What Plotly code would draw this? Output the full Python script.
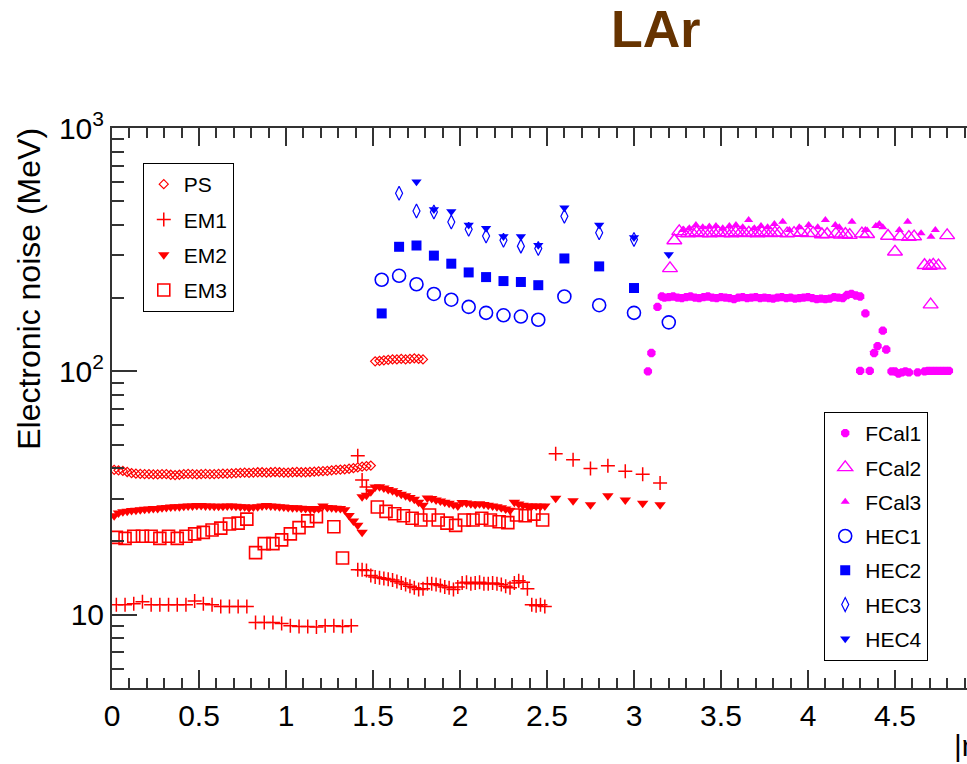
import plotly.graph_objects as go

# ---------------- data (|eta|, noise in MeV) ----------------
PS_x = [0.0125, 0.0375, 0.0625, 0.0875, 0.1125, 0.1375, 0.1625, 0.1875, 0.2125, 0.2375,
        0.2625, 0.2875, 0.3125, 0.3375, 0.3625, 0.3875, 0.4125, 0.4375, 0.4625, 0.4875,
        0.5125, 0.5375, 0.5625, 0.5875, 0.6125, 0.6375, 0.6625, 0.6875, 0.7125, 0.7375,
        0.7625, 0.7875, 0.8125, 0.8375, 0.8625, 0.8875, 0.9125, 0.9375, 0.9625, 0.9875,
        1.0125, 1.0375, 1.0625, 1.0875, 1.1125, 1.1375, 1.1625, 1.1875, 1.2125, 1.2375,
        1.2625, 1.2875, 1.3125, 1.3375, 1.3625, 1.3875, 1.4125, 1.4375, 1.4625, 1.4875,
        1.5125, 1.5375, 1.5625, 1.5875, 1.6125, 1.6375, 1.6625, 1.6875, 1.7125, 1.7375,
        1.7625, 1.7875]
PS_y = [39.4, 39.2, 39.0, 38.6, 38.2, 38.0, 37.9, 37.8, 37.8, 37.7,
        37.7, 37.8, 37.8, 37.6, 37.5, 37.6, 37.8, 37.9, 37.8, 37.7,
        37.8, 37.9, 37.8, 37.8, 37.9, 38.0, 38.0, 38.1, 38.2, 38.3,
        38.4, 38.3, 38.4, 38.5, 38.5, 38.4, 38.5, 38.6, 38.5, 38.4,
        38.4, 38.5, 38.6, 38.5, 38.5, 38.6, 38.7, 38.8, 38.9, 39.0,
        39.2, 39.4, 39.5, 39.6, 39.8, 40.0, 40.3, 40.6, 40.8, 41.0,
        110.0, 110.5, 111.0, 111.5, 112.0, 112.0, 112.5, 112.0, 112.5, 113.0,
        112.5, 112.0]

EM1_x = [0.025, 0.075, 0.125, 0.175, 0.225, 0.275, 0.325, 0.375, 0.425, 0.475,
         0.525, 0.575, 0.625, 0.675, 0.725, 0.775,
         0.825, 0.875, 0.925, 0.975, 1.025, 1.075, 1.125, 1.175, 1.225, 1.275, 1.325, 1.375,
         1.4125, 1.4375, 1.4625, 1.4125, 1.4375, 1.4625,
         1.4875, 1.5125, 1.5375, 1.5625, 1.5875, 1.6125, 1.6375, 1.6625, 1.6875, 1.7125,
         1.7375, 1.7625, 1.7875, 1.8125, 1.8375, 1.8625, 1.8875, 1.9125, 1.9375, 1.9625,
         1.9875, 2.0125, 2.0375, 2.0625, 2.0875, 2.1125, 2.1375, 2.1625, 2.1875, 2.2125,
         2.2375, 2.2625, 2.2875, 2.3125, 2.3375, 2.3625, 2.3875, 2.4125, 2.4375, 2.4625,
         2.4875,
         2.55, 2.65, 2.75, 2.85, 2.95, 3.05, 3.15]
EM1_y = [11.0, 11.0, 11.1, 11.3, 11.0, 11.0, 11.0, 11.0, 11.0, 11.4,
         11.1, 11.0, 10.8, 10.8, 10.8, 10.8,
         9.3, 9.3, 9.3, 9.2, 9.0, 8.95, 8.95, 8.9, 9.0, 9.0, 8.95, 9.0,
         45.0, 35.8, 33.5, 15.3, 15.3, 15.2,
         14.5, 14.3, 14.2, 14.1, 14.0, 13.9, 13.7, 13.5, 13.3, 13.1,
         12.9, 12.7, 12.8, 13.4, 13.4, 13.3, 13.2, 13.0, 12.9, 12.7,
         13.0, 13.5, 13.6, 13.4, 13.5, 13.6, 13.4, 13.4, 13.5, 13.4,
         13.3, 13.1, 12.9, 13.5, 13.8, 13.6, 12.8, 11.0, 10.9, 11.0,
         10.8,
         45.9, 43.3, 39.9, 40.9, 38.9, 37.8, 34.8]

EM2_x = [0.0125, 0.0375, 0.0625, 0.0875, 0.1125, 0.1375, 0.1625, 0.1875, 0.2125, 0.2375,
         0.2625, 0.2875, 0.3125, 0.3375, 0.3625, 0.3875, 0.4125, 0.4375, 0.4625, 0.4875,
         0.5125, 0.5375, 0.5625, 0.5875, 0.6125, 0.6375, 0.6625, 0.6875, 0.7125, 0.7375,
         0.7625, 0.7875, 0.8125, 0.8375, 0.8625, 0.8875, 0.9125, 0.9375, 0.9625, 0.9875,
         1.0125, 1.0375, 1.0625, 1.0875, 1.1125, 1.1375, 1.1625, 1.1875, 1.2125, 1.2375,
         1.2625, 1.2875, 1.3125, 1.3375, 1.3625, 1.3875, 1.4125, 1.4375,
         1.4375, 1.4625, 1.4875, 1.5125, 1.5375, 1.5625, 1.5875, 1.6125, 1.6375, 1.6625,
         1.6875, 1.7125, 1.7375, 1.7625, 1.7875, 1.8125, 1.8375, 1.8625, 1.8875, 1.9125,
         1.9375, 1.9625, 1.9875, 2.0125, 2.0375, 2.0625, 2.0875, 2.1125, 2.1375, 2.1625,
         2.1875, 2.2125, 2.2375, 2.2625, 2.2875, 2.3125, 2.3375, 2.3625, 2.3875, 2.4125,
         2.4375, 2.4625, 2.4875,
         2.55, 2.65, 2.75, 2.85, 2.95, 3.05, 3.15]
EM2_y = [25.5, 26.2, 26.5, 26.6, 26.8, 26.9, 27.0, 27.1, 27.2, 27.3,
         27.3, 27.5, 27.6, 27.7, 27.8, 27.8, 27.9, 28.0, 28.0, 28.1,
         28.1, 28.0, 28.0, 27.9, 27.9, 27.9, 28.0, 28.0, 27.9, 27.8,
         27.8, 27.5, 27.7, 27.8, 28.0, 28.1, 28.0, 27.9, 27.8, 27.7,
         27.6, 27.5, 27.5, 27.4, 27.3, 27.3, 27.2, 27.3, 28.0, 27.6,
         27.5, 27.4, 27.3, 27.0, 25.6, 24.3, 23.3, 21.8,
         30.5, 31.0, 32.0, 33.5, 33.6, 33.2, 32.7, 32.3, 31.8, 31.3,
         30.8, 30.3, 29.8, 29.0, 28.2, 30.2, 30.0, 29.6, 29.3, 29.0,
         28.7, 28.3, 28.0, 28.9, 28.8, 28.6, 28.4, 28.6, 28.4, 28.2,
         28.0, 27.8, 27.5, 27.2, 26.9, 29.0, 28.5, 28.2, 28.0, 28.0,
         28.0, 27.9, 28.0,
         30.1, 29.4, 28.3, 30.8, 29.6, 28.7, 28.3]

EM3_x = [0.025, 0.075, 0.125, 0.175, 0.225, 0.275, 0.325, 0.375, 0.425, 0.475,
         0.525, 0.575, 0.625, 0.675, 0.725, 0.775,
         0.825, 0.875, 0.925, 0.975, 1.025, 1.075, 1.125, 1.175, 1.275, 1.325,
         1.525, 1.575, 1.625, 1.675, 1.725, 1.775, 1.825, 1.875, 1.925, 1.975,
         2.025, 2.075, 2.125, 2.175, 2.225, 2.275, 2.325, 2.375, 2.425, 2.475]
EM3_y = [20.8, 20.6, 21.0, 21.0, 21.0, 20.6, 21.0, 20.6, 21.0, 21.5,
         21.8, 22.3, 22.7, 23.6, 23.8, 24.7,
         18.0, 19.6, 19.6, 20.3, 21.5, 22.8, 24.3, 25.3, 23.0, 17.1,
         27.7, 26.6, 26.0, 25.5, 24.9, 24.5, 25.7, 24.5, 23.8, 23.3,
         24.5, 24.5, 24.9, 24.5, 24.1, 23.9, 25.7, 25.5, 25.9, 24.5]

FCAL1_x = [3.08, 3.10, 3.135, 3.16,
           3.175, 3.2, 3.225, 3.25, 3.275, 3.3, 3.325, 3.35, 3.375, 3.4,
           3.425, 3.45, 3.475, 3.5, 3.525, 3.55, 3.575, 3.6, 3.625, 3.65,
           3.675, 3.7, 3.725, 3.75, 3.775, 3.8, 3.825, 3.85, 3.875, 3.9,
           3.925, 3.95, 3.975, 4.0, 4.025, 4.05, 4.075, 4.1, 4.125, 4.15,
           4.175, 4.2, 4.225, 4.25, 4.275, 4.30,
           4.30, 4.33, 4.355, 4.38, 4.40, 4.43, 4.45,
           4.48, 4.50, 4.52, 4.54, 4.56, 4.58, 4.63, 4.67, 4.69, 4.71, 4.73, 4.75, 4.77, 4.79, 4.81]
FCAL1_y = [100, 119, 184, 203,
           201, 202, 203, 201, 200, 202, 203, 201, 200, 202,
           203, 201, 200, 202, 201, 200, 198, 201, 202, 200,
           201, 202, 200, 201, 200, 199, 201, 202, 200, 201,
           199, 200, 201, 202, 200, 198, 199, 198, 199, 202,
           201, 200, 206, 208, 205, 203,
           100.5, 173, 100.5, 119, 127, 147, 123,
           100, 100, 98, 99, 100, 99, 99, 100, 100.5, 100.5, 100.5, 100.5, 100.5, 100.5, 100.5]

FCAL2_x = [3.207, 3.232, 3.26,
           3.285, 3.31, 3.335, 3.36, 3.385, 3.41, 3.435, 3.46, 3.485, 3.51,
           3.535, 3.56, 3.585, 3.61, 3.635, 3.66, 3.685, 3.71, 3.735, 3.76,
           3.785, 3.81, 3.835, 3.88, 3.92, 3.96, 4.0, 4.03, 4.08, 4.11,
           4.16, 4.19, 4.215, 4.24, 4.31, 4.34, 4.46,
           4.50, 4.53, 4.58, 4.61, 4.67, 4.70, 4.72, 4.75, 4.705, 4.80]
FCAL2_y = [265, 345, 376,
           370, 368, 370, 372, 369, 370, 368, 370, 372, 369,
           370, 368, 372, 370, 369, 371, 370, 368, 372, 370,
           369, 371, 370, 368, 370, 372, 369, 370, 365, 366,
           368, 364, 366, 363, 368, 366, 360,
           310, 358, 356, 358, 273, 271, 274, 272, 188, 362]

FCAL3_x = [3.280, 3.318, 3.356, 3.395, 3.433, 3.471, 3.510, 3.548, 3.586, 3.625,
           3.659, 3.692, 3.730, 3.768, 3.807, 3.855, 3.893, 3.950, 4.004, 4.056,
           4.100, 4.157, 4.180, 4.253, 4.330, 4.390, 4.410, 4.430, 4.525, 4.573,
           4.650, 4.707, 4.732]
FCAL3_y = [381, 387, 399, 391, 394, 396, 387, 396, 399, 391,
           419, 387, 396, 391, 403, 412, 381, 391, 399, 391,
           419, 399, 391, 412, 381, 396, 403, 391, 381, 412,
           369, 357, 381]

HEC1_x = [1.55, 1.65, 1.75, 1.85, 1.95, 2.05, 2.15, 2.25, 2.35, 2.45, 2.6, 2.8, 3.0, 3.2]
HEC1_y = [238, 247, 228, 208, 197, 184, 174, 170, 168, 163, 203, 187, 174, 159]

HEC2_x = [1.55, 1.65, 1.75, 1.85, 1.95, 2.05, 2.15, 2.25, 2.35, 2.45, 2.6, 2.8, 3.0]
HEC2_y = [173, 325, 329, 299, 277, 255, 244, 235, 233, 226, 291, 270, 220]

HEC3_x = [1.65, 1.75, 1.85, 1.95, 2.05, 2.15, 2.25, 2.35, 2.45, 2.6, 2.8, 3.0]
HEC3_y = [539, 456, 452, 411, 384, 360, 346, 327, 320, 434, 371, 348]

HEC4_x = [1.75, 1.85, 1.95, 2.05, 2.15, 2.25, 2.35, 2.45, 2.6, 2.8, 3.0, 3.2]
HEC4_y = [602, 463, 454, 399, 387, 358, 358, 330, 470, 399, 355, 302]

Y_TICKS = [10, 100, 1000]
Y_TICKTEXT = ["10", "10<sup>2</sup>", "10<sup>3</sup>"]
Y_MINOR = [6, 7, 8, 9, 20, 30, 40, 50, 60, 70, 80, 90, 200, 300, 400, 500, 600, 700, 800, 900]

RED = "#ff0000"
BLUE = "#0000ff"
MAG = "#ff00ff"
FONT = "Liberation Sans, Arial, sans-serif"

fig = go.Figure()

def add(x, y, name, symbol, color, size, legend, lw=0, open_=False):
    marker = dict(symbol=symbol, size=size, color=color)
    if open_:
        marker["line"] = dict(color=color, width=lw)
    fig.add_trace(go.Scatter(x=x, y=y, mode="markers", name=name, marker=marker,
                             legend=legend, legendgroup=name))

add(PS_x, PS_y, "PS", "diamond-open", RED, 7, "legend", 1.2, True)
add(EM1_x, EM1_y, "EM1", "cross-thin", RED, 10, "legend", 1.5, True)
add(EM2_x, EM2_y, "EM2", "triangle-down", RED, 10, "legend")
add(EM3_x, EM3_y, "EM3", "square-open", RED, 12, "legend", 1.6, True)
add(FCAL1_x, FCAL1_y, "FCal1", "octagon", MAG, 9, "legend2")
add(FCAL2_x, FCAL2_y, "FCal2", "triangle-up-open", MAG, 13, "legend2", 1.4, True)
add(FCAL3_x, FCAL3_y, "FCal3", "triangle-up", MAG, 8, "legend2")
add(HEC1_x, HEC1_y, "HEC1", "circle-open", BLUE, 13, "legend2", 1.6, True)
add(HEC2_x, HEC2_y, "HEC2", "square", BLUE, 10, "legend2")
add(HEC3_x, HEC3_y, "HEC3", "diamond-tall-open", BLUE, 10, "legend2", 1.2, True)
add(HEC4_x, HEC4_y, "HEC4", "triangle-down", BLUE, 9, "legend2")

AX = "#333333"
fig.update_layout(
    width=967, height=764,
    margin=dict(l=112, r=0, t=128, b=76),
    paper_bgcolor="white", plot_bgcolor="white",
    font=dict(family=FONT, color="black"),
    showlegend=True,
    legend=dict(x=0.036, y=0.9375, xanchor="left", yanchor="top",
                bgcolor="white", bordercolor="black", borderwidth=1,
                font=dict(family=FONT, size=21, color="black"),
                tracegroupgap=5, itemwidth=30),
    legend2=dict(x=0.833, y=0.493, xanchor="left", yanchor="top",
                 bgcolor="white", bordercolor="black", borderwidth=1,
                 font=dict(family=FONT, size=21, color="black"),
                 tracegroupgap=4, itemwidth=30),
    xaxis=dict(range=[0, 4.914], showgrid=False, zeroline=False,
               showline=True, linecolor=AX, linewidth=2, mirror="allticks",
               ticks="inside", ticklen=18, tickwidth=1.5, tickcolor=AX,
               tick0=0, dtick=0.5,
               tickfont=dict(family=FONT, size=30, color="black"),
               minor=dict(dtick=0.1, ticks="inside", ticklen=10, tickwidth=1.5, tickcolor=AX)),
    yaxis=dict(type="log", range=[0.69897, 3.0], showgrid=False, zeroline=False,
               showline=True, linecolor=AX, linewidth=2, mirror=False,
               ticks="inside", ticklen=25, tickwidth=1.5, tickcolor=AX,
               tickmode="array", tickvals=Y_TICKS, ticktext=Y_TICKTEXT,
               tickfont=dict(family=FONT, size=30, color="black"),
               minor=dict(tickmode="array", tickvals=Y_MINOR, ticks="inside",
                          ticklen=12, tickwidth=1.5, tickcolor=AX)),
    annotations=[
        dict(text="<b>LAr</b>", xref="paper", yref="paper", x=0.636, y=1.177,
             xanchor="center", yanchor="middle", showarrow=False,
             font=dict(family=FONT, size=52, color="#663300")),
        dict(text="Electronic noise (MeV)", xref="paper", yref="paper", x=-0.097, y=1.004,
             xanchor="center", yanchor="top", textangle=-90, showarrow=False,
             font=dict(family=FONT, size=32, color="black")),
        dict(text="|η|", xref="paper", yref="paper", x=0.982, y=-0.102,
             xanchor="left", yanchor="middle", showarrow=False,
             font=dict(family=FONT, size=30, color="black")),
    ],
)

fig.write_html("out.html")
